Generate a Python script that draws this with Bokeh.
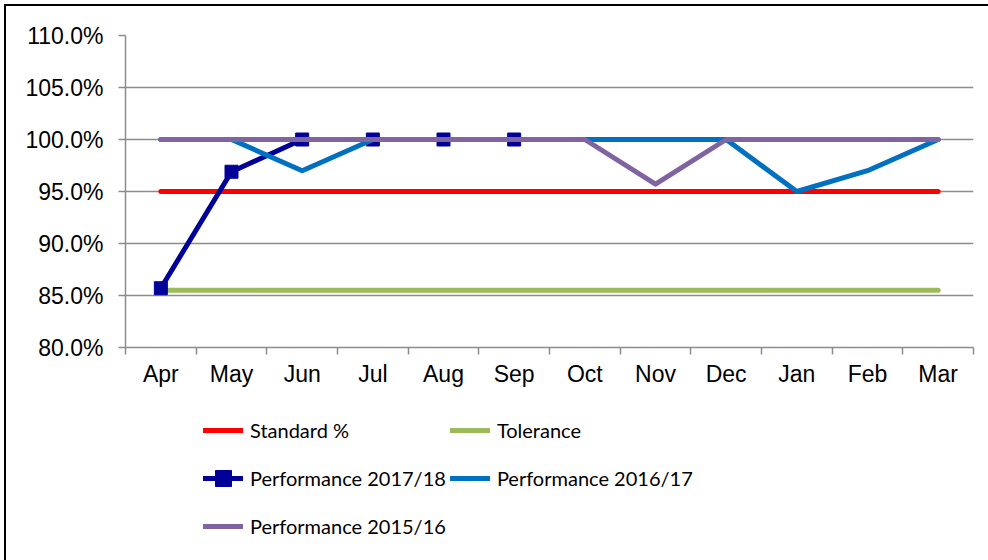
from bokeh.plotting import figure
from bokeh.layouts import column
from bokeh.models import (FixedTicker, NumeralTickFormatter, Legend, LegendItem,
                          Range1d, InlineStyleSheet)
from bokeh.embed import file_html
from bokeh.resources import INLINE

months = ["Apr", "May", "Jun", "Jul", "Aug", "Sep", "Oct", "Nov", "Dec", "Jan", "Feb", "Mar"]
standard = [0.95] * 12
tolerance = [0.855] * 12
perf_2017_18 = [0.857, 0.969, 1.0, 1.0, 1.0, 1.0]
perf_2016_17 = [1.0, 1.0, 0.970, 1.0, 1.0, 1.0, 1.0, 1.0, 1.0, 0.950, 0.970, 1.0]
perf_2015_16 = [1.0, 1.0, 1.0, 1.0, 1.0, 1.0, 1.0, 0.957, 1.0, 1.0, 1.0, 1.0]
y_ticks = [0.80, 0.85, 0.90, 0.95, 1.00, 1.05, 1.10]
series_names = ["Standard %", "Tolerance", "Performance 2017/18", "Performance 2016/17", "Performance 2015/16"]
series_colors = ["#FF0000", "#9BBB59", "#000099", "#0070C0", "#8064A2"]
series_values = [standard, tolerance, perf_2017_18, perf_2016_17, perf_2015_16]
marker_series = "Performance 2017/18"

x_all = list(range(len(months)))

top_css = InlineStyleSheet(css=""":host::after {
  content: ''; position: absolute; left: 4px; top: 4px; right: 0; bottom: 0;
  border-left: 2px solid black; border-top: 2px solid black;
  pointer-events: none; z-index: 100;
}""")
bottom_css = InlineStyleSheet(css=""":host::after {
  content: ''; position: absolute; left: 4px; top: 0; right: 0; bottom: 0;
  border-left: 2px solid black;
  pointer-events: none; z-index: 100;
}""")

lw = 5
grid_col = "#8c8c8c"
axis_font = "Liberation Sans"

CHART_H = 400
p = figure(width=988, height=CHART_H, output_backend="svg", toolbar_location=None,
           x_range=Range1d(-0.5, len(months) - 0.5), y_range=Range1d(y_ticks[0], y_ticks[-1]),
           min_border_left=125, min_border_right=15, min_border_top=35,
           min_border_bottom=CHART_H - 347, stylesheets=[top_css])
p.outline_line_color = None
p.background_fill_color = "white"
p.border_fill_color = "white"

# x axis: labels at category centres, ticks at category boundaries
p.xaxis.ticker = FixedTicker(ticks=x_all, minor_ticks=[i - 0.5 for i in range(len(months) + 1)])
p.xaxis.major_label_overrides = {i: m for i, m in enumerate(months)}
p.xaxis.major_tick_out = 0
p.xaxis.major_tick_in = 0
p.xaxis.minor_tick_out = 7
p.xaxis.minor_tick_in = 0
p.xaxis.minor_tick_line_color = grid_col
p.xaxis.minor_tick_line_width = 1.5
p.xaxis.axis_line_color = grid_col
p.xaxis.axis_line_width = 1.5
p.xaxis.major_label_text_font = axis_font
p.xaxis.major_label_text_font_size = "23px"
p.xaxis.major_label_text_color = "black"
p.xaxis.major_label_standoff = 6
p.xgrid.visible = False

# y axis
p.yaxis.ticker = FixedTicker(ticks=y_ticks, minor_ticks=[])
p.yaxis.formatter = NumeralTickFormatter(format="0.0%")
p.yaxis.major_tick_out = 7
p.yaxis.major_tick_in = 0
p.yaxis.major_tick_line_color = grid_col
p.yaxis.major_tick_line_width = 1.5
p.yaxis.axis_line_color = grid_col
p.yaxis.axis_line_width = 1.5
p.yaxis.major_label_text_font = axis_font
p.yaxis.major_label_text_font_size = "23px"
p.yaxis.major_label_text_color = "black"
p.yaxis.major_label_standoff = 15
p.ygrid.grid_line_color = grid_col
p.ygrid.grid_line_width = 1.5


def draw_series(fig):
    out = []
    for name, col, vals in zip(series_names, series_colors, series_values):
        xs = x_all[:len(vals)]
        rs = [fig.line(xs, vals, line_color=col, line_width=lw, line_cap="round", line_join="round")]
        if name == marker_series:
            rs.append(fig.scatter(xs, vals, marker="square", size=13, fill_color=col, line_color=col))
        out.append(LegendItem(label=name, renderers=rs))
    return out


draw_series(p)

# legend panel: a separate figure (its data lie outside its range) so the legend is not clipped
LEG_H = 560 - CHART_H
q = figure(width=988, height=LEG_H, output_backend="svg", toolbar_location=None,
           x_range=Range1d(-0.5, len(months) - 0.5), y_range=Range1d(0, 0.1),
           min_border=0, stylesheets=[bottom_css])
q.axis.visible = False
q.grid.visible = False
q.outline_line_color = None
q.background_fill_color = "white"
q.border_fill_color = "white"

items = draw_series(q)

legend = Legend(items=items, ncols=2, orientation="horizontal", location=(78, 12))
legend.margin = 0
legend.padding = 0
legend.border_line_color = None
legend.background_fill_alpha = 0
legend.glyph_width = 40
legend.glyph_height = 44
legend.label_height = 44
legend.spacing = 4
legend.label_standoff = 7
legend.label_text_font = "Lato"
legend.label_text_font_size = "20px"
legend.label_text_color = "black"
q.add_layout(legend, "center")

layout = column(p, q, spacing=0)
open("out.html", "w").write(file_html(layout, INLINE))
